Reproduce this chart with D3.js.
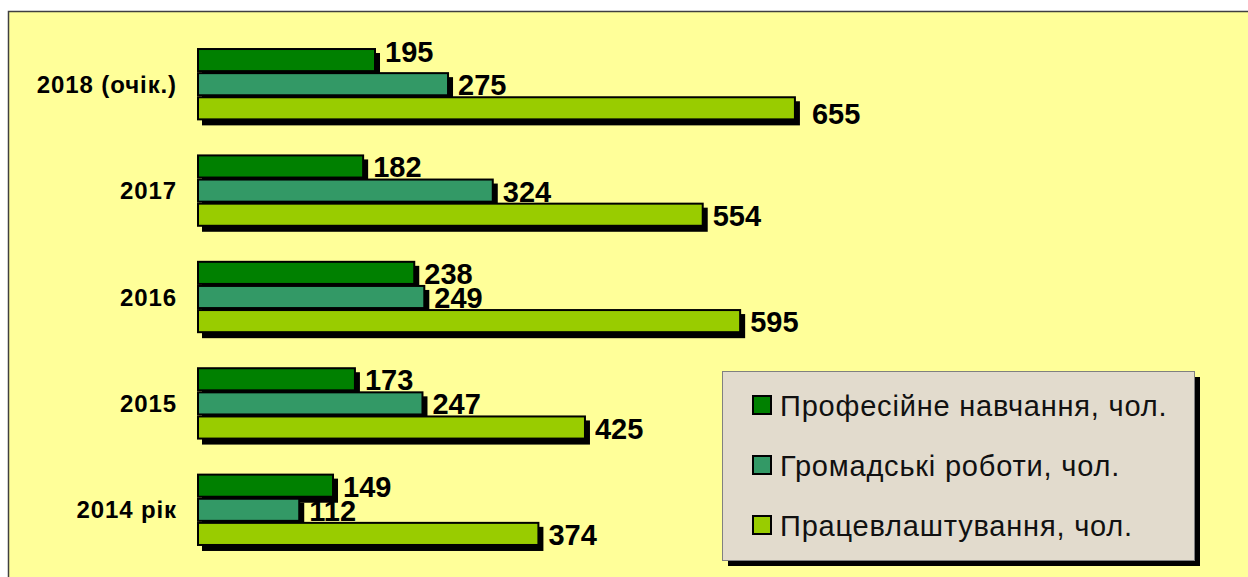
<!DOCTYPE html>
<html>
<head>
<meta charset="utf-8">
<script src="https://cdn.jsdelivr.net/npm/d3@7"></script>
<style>
  body { margin: 0; background: #fff; }
  svg { display: block; font-family: Arial, "Liberation Sans", sans-serif; }
</style>
</head>
<body>
<div id="chart"></div>
<script>
const years = ['2018 (очік.)', '2017', '2016', '2015', '2014 рік'];
const seriesNames = ['Професійне навчання, чол.', 'Громадські роботи, чол.', 'Працевлаштування, чол.'];
const training = [195, 182, 238, 173, 149];
const publicWorks = [275, 324, 249, 247, 112];
const employment = [655, 554, 595, 425, 374];

const colors = ['#008000', '#339966', '#99cc00'];
const w = 1248;
const h = 577;
const shadow = 5;

const allSeries = [training, publicWorks, employment];
const rows = [];
years.forEach((y, i) => {
  allSeries.forEach((s, j) => rows.push({year: y, series: j, value: s[i]}));
});

const svg = d3.select('#chart').append('svg')
  .attr('width', w)
  .attr('height', h);

// chart area
svg.append('rect')
  .attr('x', 8.5).attr('y', 11.5)
  .attr('width', w + 20).attr('height', h + 20)
  .attr('fill', '#ffff99')
  .attr('stroke', '#404040')
  .attr('stroke-width', 1.5);

const yScale = d3.scaleBand()
  .domain(years)
  .range([31, 563])
  .paddingInner(0.32)
  .paddingOuter(0.16);

const ySub = d3.scaleBand()
  .domain([0, 1, 2])
  .range([0, yScale.bandwidth()]);

const xScale = d3.scaleLinear()
  .domain([0, 700])
  .range([197, 836]);

// y labels
svg.append('g').selectAll('text')
  .data(years)
  .enter()
  .append('text')
  .attr('x', 177)
  .attr('y', d => yScale(d) + yScale.bandwidth() / 2)
  .attr('text-anchor', 'end')
  .attr('dominant-baseline', 'central')
  .attr('font-size', 24)
  .attr('font-weight', 'bold')
  .attr('letter-spacing', 0.9)
  .text(d => d);

const bars = svg.append('g');
rows.forEach(d => {
  const by = yScale(d.year) + ySub(d.series);
  const bw = xScale(d.value) - xScale(0);
  bars.append('rect')
    .attr('x', xScale(0) + shadow)
    .attr('y', by + shadow)
    .attr('width', bw)
    .attr('height', ySub.bandwidth())
    .attr('fill', '#000');
  bars.append('rect')
    .attr('x', xScale(0) + 1)
    .attr('y', by + 1)
    .attr('width', bw - 1)
    .attr('height', ySub.bandwidth() - 2)
    .attr('fill', colors[d.series])
    .attr('stroke', '#000')
    .attr('stroke-width', 2);
});

// value labels (a couple sit off-centre in the original)
const nudge = {'2018 (очік.)-0': [0, -9], '2018 (очік.)-2': [7, 5]};
svg.append('g').selectAll('text')
  .data(rows)
  .enter()
  .append('text')
  .attr('x', d => xScale(d.value) + 10 + (nudge[d.year + '-' + d.series] || [0, 0])[0])
  .attr('y', d => yScale(d.year) + ySub(d.series) + ySub.bandwidth() / 2 + 1 + (nudge[d.year + '-' + d.series] || [0, 0])[1])
  .attr('dominant-baseline', 'central')
  .attr('font-size', 29)
  .attr('font-weight', 'bold')
  .text(d => d.value);

// legend
const legend = svg.append('g').attr('transform', 'translate(722,371)');
legend.append('rect')
  .attr('x', 6).attr('y', 6)
  .attr('width', 472).attr('height', 189)
  .attr('fill', '#000');
legend.append('rect')
  .attr('x', 0.5).attr('y', 0.5)
  .attr('width', 472).attr('height', 189)
  .attr('fill', '#e2dbcd')
  .attr('stroke', '#808080');
const items = legend.selectAll('g')
  .data(seriesNames)
  .enter()
  .append('g')
  .attr('transform', (d, i) => 'translate(0,' + (34 + i * 60) + ')');
items.append('rect')
  .attr('x', 31).attr('y', -9)
  .attr('width', 18).attr('height', 18)
  .attr('fill', (d, i) => colors[i])
  .attr('stroke', '#000')
  .attr('stroke-width', 2);
items.append('text')
  .attr('x', 58)
  .attr('y', 1)
  .attr('dominant-baseline', 'central')
  .attr('font-size', 29)
  .attr('letter-spacing', 0.8)
  .attr('fill', '#111')
  .text(d => d);
</script>
</body>
</html>
